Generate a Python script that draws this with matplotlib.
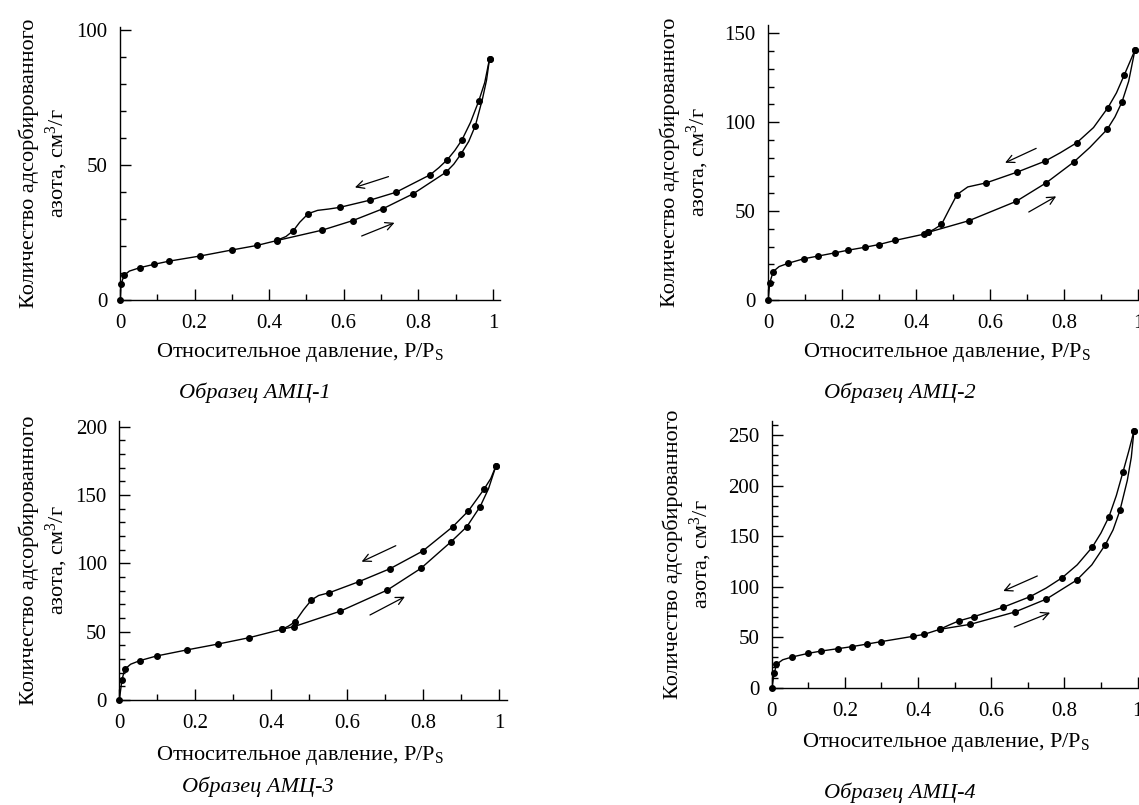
import numpy as np
import matplotlib
matplotlib.use("Agg")
import matplotlib.pyplot as plt
from matplotlib.ticker import MultipleLocator, FuncFormatter

plt.rcParams["font.family"] = ["Liberation Serif", "DejaVu Serif"]
plt.rcParams["mathtext.fontset"] = "custom"
plt.rcParams["mathtext.rm"] = "Liberation Serif"
plt.rcParams["mathtext.it"] = "Liberation Serif:italic"

W, H = 1139, 805

# ---------------------------------------------------------------------
# Data read off the isotherms (P/Ps, cm3/g)
#   *_ads  : adsorption markers (lower branch)
#   *_des  : desorption markers (upper branch, top -> closing point)
#   *_ex   : extra vertices (no markers)
# ---------------------------------------------------------------------
# АМЦ-1
p1_ads_x = [0, 0.003, 0.011, 0.054, 0.091, 0.132, 0.215, 0.299, 0.367, 0.420,
            0.543, 0.624, 0.705, 0.787, 0.874, 0.914, 0.953, 0.991]
p1_ads_y = [0, 6.0, 9.1, 12.0, 13.2, 14.4, 16.3, 18.5, 20.2, 22.0,
            25.9, 29.4, 33.8, 39.4, 47.3, 54.0, 64.6, 89.4]
p1_des_x = [0.991, 0.962, 0.917, 0.878, 0.832, 0.740, 0.671, 0.589, 0.505, 0.465, 0.422]
p1_des_y = [89.4, 73.7, 59.3, 52.0, 46.4, 39.9, 37.0, 34.3, 32.0, 25.7, 22.2]
p1_ads_ex_x = [0.025, 0.895, 0.935, 0.972, 0.983]
p1_ads_ex_y = [10.7, 50.3, 58.7, 74.5, 81.5]
p1_des_ex_x = [0.445, 0.482, 0.530, 0.560, 0.855, 0.898, 0.940, 0.978]
p1_des_ex_y = [23.5, 28.8, 33.2, 33.7, 49.0, 55.4, 65.8, 80.5]

# АМЦ-2
p2_ads_x = [0, 0.005, 0.014, 0.055, 0.097, 0.135, 0.180, 0.216, 0.263, 0.300,
            0.343, 0.423, 0.432, 0.543, 0.671, 0.752, 0.826, 0.917, 0.957, 0.992]
p2_ads_y = [0, 9.8, 16.0, 20.7, 23.2, 24.7, 26.5, 28.0, 29.7, 31.2,
            33.5, 37.1, 38.0, 44.6, 55.5, 65.9, 77.5, 96.0, 111.4, 140.6]
p2_des_x = [0.992, 0.963, 0.919, 0.835, 0.749, 0.673, 0.590, 0.511, 0.469, 0.432]
p2_des_y = [140.6, 126.5, 108.2, 88.5, 78.1, 71.9, 65.9, 59.3, 42.5, 38.0]
p2_ads_ex_x = [0.030, 0.870, 0.938, 0.975]
p2_ads_ex_y = [18.8, 85.8, 103.0, 123.0]
p2_des_ex_x = [0.450, 0.490, 0.540, 0.790, 0.880, 0.942]
p2_des_ex_y = [39.9, 51.0, 63.6, 82.8, 97.0, 116.5]

# АМЦ-3
p3_ads_x = [0, 0.007, 0.014, 0.054, 0.098, 0.177, 0.261, 0.342, 0.428, 0.460,
            0.581, 0.706, 0.794, 0.874, 0.915, 0.950, 0.992]
p3_ads_y = [0, 14.6, 22.4, 28.8, 32.2, 36.6, 41.0, 45.6, 51.7, 53.7,
            64.9, 80.5, 96.3, 115.9, 126.8, 141.5, 171.5]
p3_des_x = [0.992, 0.960, 0.919, 0.878, 0.799, 0.713, 0.631, 0.553, 0.506, 0.463, 0.428]
p3_des_y = [171.5, 154.1, 138.3, 126.8, 109.0, 96.1, 86.6, 78.5, 73.2, 57.3, 51.7]
p3_ads_ex_x = [0.030, 0.972]
p3_ads_ex_y = [26.2, 154.5]
p3_des_ex_x = [0.445, 0.485, 0.525, 0.978]
p3_des_ex_y = [54.0, 66.0, 76.5, 162.0]

# АМЦ-4
p4_ads_x = [0, 0.007, 0.013, 0.055, 0.100, 0.136, 0.181, 0.219, 0.261, 0.298,
            0.386, 0.417, 0.459, 0.543, 0.665, 0.751, 0.834, 0.912, 0.952, 0.990]
p4_ads_y = [0, 14.2, 23.1, 30.3, 34.0, 36.3, 38.6, 40.6, 43.2, 45.5,
            50.8, 52.8, 57.7, 62.7, 74.9, 87.7, 106.5, 141.5, 175.5, 253.6]
p4_des_x = [0.990, 0.960, 0.922, 0.876, 0.794, 0.706, 0.632, 0.553, 0.511, 0.459]
p4_des_y = [253.6, 213.1, 169.2, 138.9, 108.8, 90.0, 79.5, 70.3, 66.0, 57.7]
p4_ads_ex_x = [0.030, 0.875, 0.933, 0.972, 0.983]
p4_ads_ex_y = [27.6, 121.5, 156.0, 205.0, 228.0]
p4_des_ex_x = [0.485, 0.750, 0.835, 0.900, 0.942, 0.976]
p4_des_ex_y = [62.0, 98.5, 121.5, 153.0, 190.0, 234.0]

titles = ["Образец АМЦ-1", "Образец АМЦ-2", "Образец АМЦ-3", "Образец АМЦ-4"]
ymax = [101, 154.7, 204, 264]

# arrows: (start, end) for desorption and adsorption directions
arrows = [
    [((0.720, 45.7), (0.630, 41.7)), ((0.648, 23.7), (0.736, 28.6))],
    [((0.725, 85.3), (0.641, 77.2)), ((0.705, 49.5), (0.779, 58.3))],
    [((0.728, 112.9), (0.638, 101.2)), ((0.660, 62.2), (0.752, 75.6))],
    [((0.726, 110.5), (0.633, 95.6)), ((0.663, 60.0), (0.761, 74.2))],
]

# panel geometry in pixels: x of P=0, x of right end, y of 0, y of top, xlim right
boxes = [
    (120.0, 500.0, 300.0, 27.3, 1.019),
    (768.0, 1139.0, 300.0, 25.0, 1.003),
    (119.3, 506.7, 700.0, 421.2, 1.020),
    (771.7, 1139.0, 687.7, 420.8, 1.004),
]
title_pos = [(255, 393), (900, 393), (258, 787), (900, 793)]
xlabel_pos = [(300, 341), (947, 341), (300, 744), (946, 731)]
ylabel_right = [70, 711, 70, 714]

series = [
    (p1_ads_x, p1_ads_y, p1_des_x, p1_des_y, p1_ads_ex_x, p1_ads_ex_y, p1_des_ex_x, p1_des_ex_y),
    (p2_ads_x, p2_ads_y, p2_des_x, p2_des_y, p2_ads_ex_x, p2_ads_ex_y, p2_des_ex_x, p2_des_ex_y),
    (p3_ads_x, p3_ads_y, p3_des_x, p3_des_y, p3_ads_ex_x, p3_ads_ex_y, p3_des_ex_x, p3_des_ex_y),
    (p4_ads_x, p4_ads_y, p4_des_x, p4_des_y, p4_ads_ex_x, p4_ads_ex_y, p4_des_ex_x, p4_des_ex_y),
]


def curve(mx, my, ex, ey):
    # markers + extra curve vertices, ordered along P/Ps
    pts = sorted(zip(list(mx) + list(ex), list(my) + list(ey)))
    return [p[0] for p in pts], [p[1] for p in pts]


fig = plt.figure(figsize=(W / 100, H / 100), dpi=100)

for i, (ax_x, ax_y, de_x, de_y, aex, aey, dex, dey) in enumerate(series):
    x0, x1, y0, y1, xr = boxes[i]
    ax = fig.add_axes([x0 / W, 1 - y0 / H, (x1 - x0) / W, (y0 - y1) / H])

    cx, cy = curve(ax_x, ax_y, aex, aey)
    ax.plot(cx, cy, "-", color="black", lw=1.0)
    cx, cy = curve(de_x, de_y, dex, dey)
    ax.plot(cx, cy, "-", color="black", lw=1.0)
    ax.plot(ax_x, ax_y, "o", color="black", ms=4, clip_on=False)
    ax.plot(de_x, de_y, "o", color="black", ms=4, clip_on=False)

    for start, end in arrows[i]:
        ax.annotate("", xy=end, xytext=start,
                    arrowprops=dict(arrowstyle="->", color="black", lw=0.9,
                                    shrinkA=0, shrinkB=0, mutation_scale=14))

    ax.set_xlim(0, xr)
    ax.set_ylim(0, ymax[i])
    ax.spines["top"].set_visible(False)
    ax.spines["right"].set_visible(False)
    for s in ("left", "bottom"):
        ax.spines[s].set_linewidth(1.0)

    ax.xaxis.set_major_locator(MultipleLocator(0.2))
    ax.xaxis.set_minor_locator(MultipleLocator(0.1))
    ax.yaxis.set_major_locator(MultipleLocator(50))
    ax.yaxis.set_minor_locator(MultipleLocator(10))
    ax.xaxis.set_major_formatter(FuncFormatter(lambda v, p: f"{v:g}"))
    ax.tick_params(which="both", direction="in", labelsize=15, width=1.0)
    ax.tick_params(which="major", length=8)
    ax.tick_params(which="minor", length=4)
    ax.tick_params(axis="x", pad=10)
    ax.tick_params(axis="y", pad=9)

    wpx = x1 - x0
    hpx = y0 - y1
    lx, ly = xlabel_pos[i]
    ax.set_xlabel("Относительное давление, P/P$_\\mathrm{S}$", fontsize=16)
    ax.xaxis.set_label_coords((lx - x0) / wpx, -(ly - y0) / hpx)
    ax.set_ylabel("Количество адсорбированного\nазота, см$^3$/г",
                  fontsize=16, linespacing=1.25)
    ax.yaxis.set_label_coords((ylabel_right[i] - x0) / wpx, 0.5)

    tx, ty = title_pos[i]
    fig.text(tx / W, 1 - ty / H, titles[i], style="italic", fontsize=16,
             ha="center", va="center")

fig.savefig("out.png", dpi=100)
